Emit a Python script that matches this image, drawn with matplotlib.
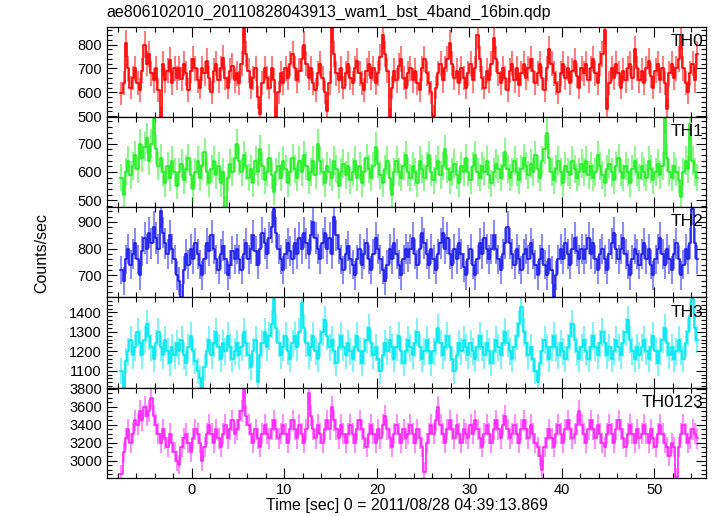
import numpy as np
import matplotlib
matplotlib.use('Agg')
import matplotlib.pyplot as plt
from matplotlib.ticker import MultipleLocator

plt.rcParams['font.family'] = ['Liberation Sans', 'DejaVu Sans']

# time grid: 0.25 s bins starting at -7.75 s
t_start = -7.75
bin_size = 0.25

title = 'ae806102010_20110828043913_wam1_bst_4band_16bin.qdp'
xlabel = 'Time [sec] 0 = 2011/08/28 04:39:13.869'
ylabel = 'Counts/sec'
names = ['TH0', 'TH1', 'TH2', 'TH3', 'TH0123']
colors = ['#ff0000', '#22ee22', '#1a1aee', '#00e8f0', '#ff22ff']

th0 = [
    595, 640, 805, 700, 620, 660, 700, 640, 610, 690, 800, 720, 760, 680, 650, 700, 610, 495, 720, 650, 690, 735, 640, 700, 660,
    700, 655, 720, 680, 610, 690, 740, 700, 650, 620, 700, 680, 730, 660, 600, 690, 720, 650, 700, 745, 660, 620, 690, 710, 650,
    680, 640, 720, 870, 760, 690, 620, 660, 700, 580, 510, 640, 700, 660, 620, 700, 650, 495, 600, 680, 640, 700, 660, 720, 760,
    700, 650, 690, 740, 800, 720, 660, 700, 640, 610, 680, 720, 660, 600, 520, 640, 870, 760, 680, 650, 700, 620, 680, 720, 660,
    640, 700, 730, 680, 640, 610, 690, 720, 660, 700, 640, 680, 750, 840, 760, 690, 490, 620, 690, 650, 710, 740, 660, 620, 680,
    700, 650, 690, 640, 610, 700, 740, 680, 640, 600, 500, 620, 680, 720, 650, 700, 740, 806, 720, 660, 690, 640, 700, 660, 620,
    680, 720, 650, 700, 840, 740, 660, 620, 690, 650, 720, 827, 740, 680, 640, 700, 660, 610, 690, 720, 650, 700, 630, 680, 720,
    660, 700, 740, 690, 640, 680, 720, 660, 610, 700, 780, 720, 680, 640, 600, 680, 720, 660, 700, 640, 690, 730, 670, 620, 700,
    680, 720, 650, 700, 740, 680, 640, 720, 760, 862, 530, 640, 700, 660, 720, 680, 620, 690, 650, 700, 720, 660, 780, 700, 650,
    690, 640, 700, 730, 670, 620, 690, 720, 650, 700, 640, 530, 680, 720, 660, 700, 740, 840, 700, 640, 600, 680, 720, 650, 760,
]
th1 = [
    580, 520, 600, 640, 590, 620, 660, 610, 700, 650, 690, 720, 640, 700, 790, 680, 620, 650, 600, 560, 620, 580, 640, 600, 550,
    600, 630, 570, 610, 650, 590, 540, 600, 640, 580, 620, 670, 600, 560, 610, 640, 590, 620, 560, 600, 470, 580, 630, 600, 650,
    700, 640, 600, 660, 620, 580, 610, 560, 640, 600, 680, 620, 570, 600, 650, 590, 530, 600, 620, 580, 640, 610, 560, 600, 650,
    610, 580, 640, 600, 660, 620, 570, 600, 640, 590, 700, 640, 600, 560, 620, 600, 580, 640, 610, 550, 600, 630, 590, 620, 570,
    600, 640, 580, 620, 560, 600, 650, 610, 580, 620, 690, 630, 590, 560, 610, 640, 580, 520, 600, 640, 600, 580, 620, 660, 600,
    580, 620, 600, 560, 640, 610, 580, 620, 660, 600, 570, 610, 640, 590, 620, 680, 610, 570, 600, 630, 590, 560, 620, 600, 650,
    600, 570, 620, 660, 600, 580, 620, 600, 640, 590, 560, 600, 630, 610, 580, 620, 670, 610, 580, 600, 640, 600, 570, 610, 650,
    620, 590, 630, 600, 660, 610, 580, 640, 680, 740, 650, 600, 570, 610, 640, 600, 560, 620, 600, 590, 640, 610, 580, 600, 630,
    600, 640, 590, 620, 580, 600, 660, 620, 590, 560, 610, 630, 600, 570, 620, 650, 600, 580, 620, 600, 560, 610, 640, 600, 580,
    620, 600, 580, 640, 610, 570, 600, 630, 590, 620, 790, 650, 600, 580, 620, 600, 570, 510, 600, 640, 610, 770, 640, 600, 580,
]
th2 = [
    720, 680, 760, 800, 740, 780, 820, 760, 700, 790, 840, 800, 860, 820, 880, 840, 800, 940, 860, 820, 780, 850, 800, 760, 700,
    680, 620, 720, 780, 740, 800, 760, 820, 780, 740, 700, 760, 820, 790, 850, 800, 760, 720, 780, 810, 760, 700, 740, 790, 760,
    800, 760, 720, 780, 820, 760, 800, 850, 790, 740, 800, 860, 820, 780, 840, 880, 950, 860, 800, 760, 720, 780, 820, 790, 760,
    820, 780, 840, 800, 860, 820, 780, 850, 900, 840, 800, 760, 820, 860, 800, 840, 780, 920, 850, 800, 760, 720, 780, 810, 760,
    740, 700, 760, 800, 740, 780, 820, 760, 720, 780, 840, 800, 760, 720, 680, 740, 800, 760, 820, 780, 740, 700, 760, 800, 770,
    800, 840, 780, 740, 800, 860, 820, 780, 740, 800, 760, 720, 780, 820, 860, 800, 840, 780, 740, 800, 760, 820, 780, 730, 700,
    760, 800, 740, 700, 760, 820, 780, 840, 800, 760, 800, 850, 800, 760, 720, 780, 820, 880, 820, 780, 740, 800, 760, 720, 780,
    800, 760, 820, 780, 740, 700, 760, 800, 740, 700, 760, 720, 620, 700, 760, 800, 760, 820, 780, 740, 800, 840, 790, 760, 800,
    760, 800, 840, 780, 820, 760, 720, 780, 800, 760, 720, 780, 820, 860, 800, 760, 800, 840, 780, 740, 700, 760, 800, 780, 740,
    780, 820, 760, 800, 740, 700, 760, 800, 840, 780, 740, 800, 760, 720, 780, 820, 760, 700, 740, 800, 760, 820, 950, 820, 760,
]
th3 = [
    1100, 1010, 1150, 1200, 1260, 1180, 1220, 1300, 1240, 1180, 1260, 1340, 1280, 1220, 1160, 1240, 1300, 1220, 1180, 1260, 1200, 1140, 1220, 1180, 1240,
    1200, 1260, 1180, 1140, 1220, 1280, 1200, 1150, 1100, 1060, 1010, 1120, 1200, 1260, 1180, 1240, 1300, 1220, 1160, 1240, 1200, 1280, 1220, 1160, 1200,
    1240, 1180, 1220, 1300, 1240, 1180, 1120, 1200, 1260, 1040, 1180, 1240, 1300, 1220, 1280, 1340, 1470, 1320, 1240, 1180, 1220, 1280, 1200, 1160, 1240,
    1280, 1220, 1300, 1450, 1320, 1240, 1180, 1220, 1280, 1200, 1160, 1240, 1300, 1360, 1280, 1220, 1260, 1200, 1140, 1220, 1280, 1220, 1180, 1240, 1200,
    1160, 1220, 1280, 1200, 1140, 1200, 1260, 1320, 1240, 1180, 1220, 1160, 1100, 1180, 1240, 1200, 1260, 1220, 1160, 1220, 1280, 1200, 1140, 1200, 1260,
    1220, 1180, 1240, 1300, 1220, 1160, 1200, 1260, 1200, 1140, 1200, 1250, 1320, 1240, 1180, 1220, 1280, 1220, 1160, 1100, 1180, 1240, 1200, 1260, 1220,
    1180, 1240, 1200, 1160, 1220, 1280, 1220, 1180, 1240, 1200, 1140, 1200, 1260, 1220, 1180, 1240, 1300, 1240, 1200, 1160, 1220, 1280, 1340, 1430, 1300,
    1240, 1180, 1220, 1160, 1100, 1040, 1140, 1200, 1260, 1220, 1160, 1220, 1280, 1220, 1180, 1240, 1200, 1160, 1220, 1280, 1340, 1260, 1200, 1160, 1220,
    1260, 1200, 1160, 1220, 1280, 1220, 1180, 1240, 1300, 1240, 1180, 1220, 1160, 1200, 1260, 1220, 1180, 1240, 1300, 1360, 1260, 1200, 1160, 1220, 1180,
    1220, 1260, 1200, 1160, 1220, 1280, 1200, 1140, 1200, 1260, 1320, 1240, 1180, 1220, 1160, 1200, 1260, 1200, 1160, 1240, 1300, 1380, 1470, 1320, 1260,
]
th0123 = [
    2850, 3100, 3250, 3350, 3200, 3300, 3450, 3400, 3550, 3450, 3600, 3500, 3550, 3700, 3500, 3400, 3300, 3200, 3350, 3250, 3150, 3300, 3200, 3100, 3000,
    2960, 3150, 3250, 3300, 3200, 3100, 3250, 3350, 3300, 3200, 3000, 3150, 3300, 3400, 3300, 3200, 3350, 3250, 3150, 3300, 3400, 3250, 3350, 3450, 3300,
    3350, 3450, 3550, 3800, 3500, 3400, 3300, 3200, 3350, 3250, 3150, 3300, 3400, 3300, 3250, 3350, 3450, 3350, 3250, 3300, 3400, 3300, 3200, 3350, 3450,
    3350, 3250, 3400, 3300, 3200, 3350, 3750, 3500, 3350, 3250, 3400, 3300, 3200, 3350, 3450, 3350, 3600, 3450, 3350, 3250, 3400, 3300, 3200, 3300, 3400,
    3300, 3200, 3350, 3450, 3350, 3250, 3150, 3300, 3400, 3300, 3200, 3350, 3250, 3400, 3500, 3350, 3250, 3150, 3300, 3400, 3300, 3200, 3350, 3250, 3300,
    3400, 3300, 3200, 3350, 3250, 3150, 2880, 3200, 3300, 3400, 3300, 3450, 3600, 3400, 3300, 3200, 3350, 3450, 3350, 3250, 3400, 3300, 3200, 3350, 3300,
    3250, 3400, 3300, 3450, 3350, 3250, 3150, 3300, 3400, 3300, 3200, 3350, 3450, 3350, 3250, 3400, 3500, 3350, 3250, 3300, 3400, 3300, 3200, 3350, 3450,
    3350, 3250, 3400, 3300, 3200, 3150, 3050, 2900, 3150, 3250, 3350, 3250, 3150, 3300, 3400, 3300, 3200, 3350, 3450, 3350, 3250, 3300, 3400, 3550, 3400,
    3300, 3200, 3350, 3450, 3350, 3250, 3400, 3300, 3200, 3150, 3300, 3400, 3300, 3200, 3350, 3450, 3350, 3250, 3150, 3300, 3400, 3300, 3200, 3350, 3250,
    3300, 3400, 3300, 3200, 3350, 3250, 3150, 3300, 3400, 3300, 3200, 3150, 3050, 3200, 3150, 2820, 3150, 3300, 3400, 3300, 3200, 3250, 3350, 3300, 3250,
]
series = [th0, th1, th2, th3, th0123]

y_limits = [(496, 875), (475, 795), (618, 955), (1013, 1477), (2813, 3810)]
y_major = [100, 100, 100, 100, 200]
y_minor = [20, 20, 20, 20, 50]

fig = plt.figure(figsize=(7.17, 5.16), dpi=100)
axes = fig.subplots(5, 1, sharex=True, gridspec_kw=dict(hspace=0))
fig.subplots_adjust(left=0.149, right=0.985, top=0.948, bottom=0.074)

for ax, vals, name, col, ylim, maj, mnr in zip(axes, series, names, colors,
                                               y_limits, y_major, y_minor):
    y = np.array(vals, dtype=float)
    t = t_start + bin_size * (np.arange(len(y)) + 0.5)
    err = np.sqrt(y * bin_size) / bin_size   # poisson error per bin
    edges = t_start + bin_size * np.arange(len(y) + 1)

    ax.errorbar(t, y, yerr=err, fmt='none',
                ecolor=col, elinewidth=1.5, alpha=0.5)
    ax.step(edges, np.append(y, y[-1]), where='post', color=col, lw=1.2)

    ax.set_ylim(*ylim)
    ax.yaxis.set_major_locator(MultipleLocator(maj))
    ax.yaxis.set_minor_locator(MultipleLocator(mnr))
    ax.tick_params(which='both', direction='in', top=True, right=True,
                   labelsize=10.5, width=0.8)
    ax.tick_params(which='major', length=7)
    ax.tick_params(which='minor', length=3.5)
    for sp in ax.spines.values():
        sp.set_linewidth(0.9)
    ax.text(0.995, 0.92, name, transform=ax.transAxes, ha='right', va='top',
            fontsize=12.5)

axes[-1].set_xlim(-9.2, 55.6)
axes[-1].xaxis.set_major_locator(MultipleLocator(10))
axes[-1].xaxis.set_minor_locator(MultipleLocator(2))
axes[-1].set_xlabel(xlabel, fontsize=11.5, labelpad=1)

fig.text(0.149, 0.975, title, ha='left', va='center', fontsize=11.5)
fig.text(0.058, 0.51, ylabel, rotation=90, ha='center', va='center',
         fontsize=11.5)

plt.savefig('out.png', dpi=100)
